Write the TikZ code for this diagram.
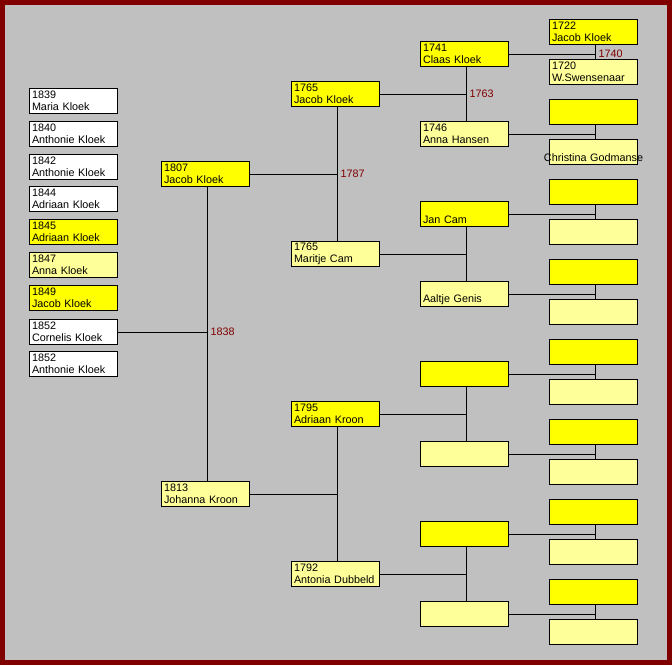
\documentclass[tikz,border=0pt]{standalone}
\usepackage{fontspec}
\setmainfont{Liberation Sans}
\usetikzlibrary{calc}
\definecolor{framecol}{HTML}{800000}
\definecolor{bgcol}{HTML}{C0C0C0}
\definecolor{yel}{HTML}{FFFF00}
\definecolor{lyel}{HTML}{FFFF99}
\definecolor{yrcol}{HTML}{800000}
\newcommand\famline[3]{%
  \coordinate (#2j) at ($(#2.south)+(2,0)$);
  \draw[conn] (#2.south -| #2j) -- (#3.north -| #2j);
  \draw[conn] (#1.east) -- (#1.east -| #2j);
}
\begin{document}
\begin{tikzpicture}[x=1pt,y=-1pt,
  pbox/.style={draw=black, line width=1pt, anchor=north west,
    minimum width=88pt, minimum height=25pt, text width=83pt,
    align=left, inner xsep=2.5pt, inner ysep=0pt,
    font=\fontsize{10.8}{12}\selectfont},
  wbox/.style={pbox, fill=white},
  ybox/.style={pbox, fill=yel},
  lbox/.style={pbox, fill=lyel},
  conn/.style={draw=black, line width=1pt},
  yearlbl/.style={anchor=west, xshift=3pt, inner sep=0pt, text=yrcol,
    font=\fontsize{10.8}{12}\selectfont}]
\fill[framecol] (0,0) rectangle (672,665);
\fill[bgcol] (5,5) rectangle (667,660);
\useasboundingbox (0,0) rectangle (672,665);

% children
\node[wbox] (c1) at (29,88)  {1839\\Maria Kloek};
\node[wbox] (c2) at (29,121) {1840\\Anthonie Kloek};
\node[wbox] (c3) at (29,154) {1842\\Anthonie Kloek};
\node[wbox] (c4) at (29,186) {1844\\Adriaan Kloek};
\node[ybox] (c5) at (29,219) {1845\\Adriaan Kloek};
\node[lbox] (c6) at (29,252) {1847\\Anna Kloek};
\node[ybox] (c7) at (29,285) {1849\\Jacob Kloek};
\node[wbox] (c8) at (29,319) {1852\\Cornelis Kloek};
\node[wbox] (c9) at (29,351) {1852\\Anthonie Kloek};

% parents
\node[ybox] (p1) at (161,161) {1807\\Jacob Kloek};
\node[lbox] (p2) at (161,481) {1813\\Johanna Kroon};

% grandparents
\node[ybox] (g1) at (291,81)  {1765\\Jacob Kloek};
\node[lbox] (g2) at (291,241) {1765\\Maritje Cam};
\node[ybox] (g3) at (291,401) {1795\\Adriaan Kroon};
\node[lbox] (g4) at (291,561) {1792\\Antonia Dubbeld};

% great-grandparents
\node[ybox] (h1) at (420,41)  {1741\\Claas Kloek};
\node[lbox] (h2) at (420,121) {1746\\Anna Hansen};
\node[ybox] (h3) at (420,201) {\phantom{1}\\Jan Cam};
\node[lbox] (h4) at (420,281) {\phantom{1}\\Aaltje Genis};
\node[ybox] (h5) at (420,361) {};
\node[lbox] (h6) at (420,441) {};
\node[ybox] (h7) at (420,521) {};
\node[lbox] (h8) at (420,601) {};

% great-great-grandparents
\node[ybox] (k1)  at (549,19)  {1722\\Jacob Kloek};
\node[lbox] (k2)  at (549,59)  {1720\\W.Swensenaar};
\node[ybox] (k3)  at (549,99)  {};
\node[lbox] (k4)  at (549,139) {\phantom{1}\\\makebox[83pt][c]{Christina Godmanse}};
\node[ybox] (k5)  at (549,179) {};
\node[lbox] (k6)  at (549,219) {};
\node[ybox] (k7)  at (549,259) {};
\node[lbox] (k8)  at (549,299) {};
\node[ybox] (k9)  at (549,339) {};
\node[lbox] (k10) at (549,379) {};
\node[ybox] (k11) at (549,419) {};
\node[lbox] (k12) at (549,459) {};
\node[ybox] (k13) at (549,499) {};
\node[lbox] (k14) at (549,539) {};
\node[ybox] (k15) at (549,579) {};
\node[lbox] (k16) at (549,619) {};

% connectors
\famline{c8}{p1}{p2}
\famline{p1}{g1}{g2}
\famline{p2}{g3}{g4}
\famline{g1}{h1}{h2}
\famline{g2}{h3}{h4}
\famline{g3}{h5}{h6}
\famline{g4}{h7}{h8}
\famline{h1}{k1}{k2}
\famline{h2}{k3}{k4}
\famline{h3}{k5}{k6}
\famline{h4}{k7}{k8}
\famline{h5}{k9}{k10}
\famline{h6}{k11}{k12}
\famline{h7}{k13}{k14}
\famline{h8}{k15}{k16}

% marriage years
\path (c8.east -| p1j) node[yearlbl] (y1) {1838};
\path (p1.east -| g1j) node[yearlbl] (y2) {1787};
\path (g1.east -| h1j) node[yearlbl] (y3) {1763};
\path (h1.east -| k1j) node[yearlbl] (y4) {1740};
\end{tikzpicture}
\end{document}
